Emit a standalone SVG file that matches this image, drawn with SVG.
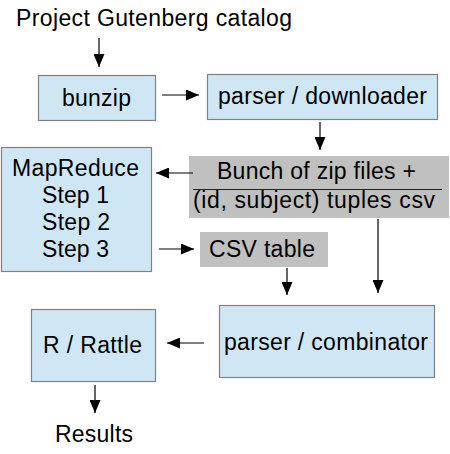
<svg xmlns="http://www.w3.org/2000/svg" width="450" height="454" viewBox="0 0 450 454">
<style>
text{font-family:"Liberation Sans",Arial,sans-serif;font-size:23px;fill:#000}
.blue{fill:#cfe7f5;stroke:#808080;stroke-width:1.2}
.gray{fill:#c0c0c0;stroke:none}
.conn line{stroke:#000;stroke-width:1.2;marker-end:url(#ah)}
</style>
<defs>
<marker id="ah" markerUnits="userSpaceOnUse" markerWidth="13" markerHeight="11" refX="13" refY="5.5" orient="auto">
<path d="M0,0 L13,5.5 L0,11 z" fill="#000"/>
</marker>
</defs>
<rect width="450" height="454" fill="#fff"/>
<g id="catalog"><text x="16" y="26" textLength="276" lengthAdjust="spacing">Project Gutenberg catalog</text></g>
<g id="bunzip"><rect class="blue" x="38.5" y="75.5" width="117" height="45"/><text x="62" y="106" textLength="69" lengthAdjust="spacing">bunzip</text></g>
<g id="parser-downloader"><rect class="blue" x="207.5" y="74.5" width="230" height="45"/><text x="218" y="104" textLength="209" lengthAdjust="spacing">parser / downloader</text></g>
<g id="mapreduce"><rect class="blue" x="1.5" y="147.5" width="150" height="124"/>
<text x="12" y="176" textLength="127" lengthAdjust="spacing">MapReduce</text>
<text x="42" y="203" textLength="67" lengthAdjust="spacing">Step 1</text>
<text x="42" y="230" textLength="68" lengthAdjust="spacing">Step 2</text>
<text x="42" y="257" textLength="67" lengthAdjust="spacing">Step 3</text></g>
<g id="zipfiles"><rect class="gray" x="189" y="156" width="260" height="62"/>
<text x="217" y="179" textLength="199" lengthAdjust="spacing">Bunch of zip files +</text>
<line x1="193" y1="189.5" x2="442" y2="189.5" stroke="#222" stroke-width="1.2"/>
<text x="193" y="208" textLength="242" lengthAdjust="spacing">(id, subject) tuples csv</text></g>
<g id="csvtable"><rect class="gray" x="200" y="232" width="128" height="35"/><text x="209" y="257" textLength="106" lengthAdjust="spacing">CSV table</text></g>
<g id="rattle"><rect class="blue" x="31.5" y="309.5" width="124" height="72"/><text x="43" y="353" textLength="99" lengthAdjust="spacing">R / Rattle</text></g>
<g id="combinator"><rect class="blue" x="219.5" y="305.5" width="215" height="72"/><text x="224" y="350" textLength="204" lengthAdjust="spacing">parser / combinator</text></g>
<g id="results"><text x="55" y="442" textLength="78" lengthAdjust="spacing">Results</text></g>
<g id="connectors" class="conn">
<line x1="99" y1="38" x2="99" y2="67"/>
<line x1="162" y1="95" x2="199" y2="95"/>
<line x1="320" y1="122" x2="320" y2="150"/>
<line x1="193" y1="173" x2="156" y2="173"/>
<line x1="378" y1="219" x2="378" y2="293"/>
<line x1="159" y1="249" x2="194" y2="249"/>
<line x1="287" y1="268" x2="287" y2="295"/>
<line x1="204" y1="343" x2="167" y2="343"/>
<line x1="95" y1="385" x2="95" y2="413"/>
</g>
</svg>
